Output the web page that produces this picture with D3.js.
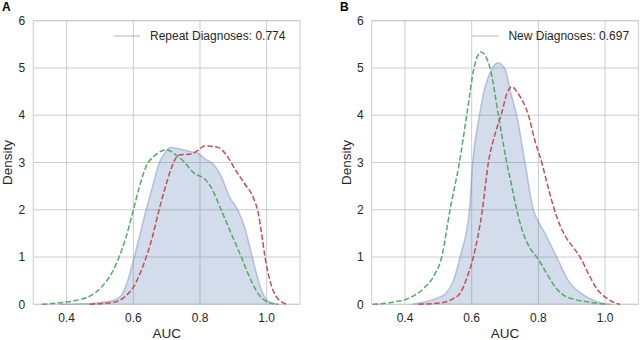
<!DOCTYPE html>
<html>
<head>
<meta charset="utf-8">
<script src="https://cdn.jsdelivr.net/npm/d3@7"></script>
<style>
  body { margin: 0; background: white; }
  svg { display: block; }
</style>
</head>
<body>
<div id="container"></div>
<script>
let w = 640;
let h = 340;

// tick values
let xTicks = [0.4, 0.6, 0.8, 1.0];
let yTicks = [0, 1, 2, 3, 4, 5, 6];

// panel A: repeat diagnoses  [AUC, density]
let repeatAll = [[0.38,0],[0.44,0.01],[0.489,0.03],[0.539,0.08],[0.563,0.18],[0.583,0.5],[0.6,0.93],[0.618,1.42],[0.638,1.99],[0.657,2.48],[0.677,2.98],[0.697,3.23],[0.712,3.32],[0.742,3.28],[0.773,3.23],[0.793,3.2],[0.813,3.09],[0.843,2.94],[0.864,2.7],[0.889,2.27],[0.914,1.99],[0.934,1.63],[0.952,1.14],[0.97,0.64],[0.985,0.29],[1.005,0.06],[1.035,0]];
let repeatGreen = [[0.326,0],[0.39,0.04],[0.44,0.1],[0.469,0.17],[0.504,0.36],[0.539,0.71],[0.578,1.42],[0.6,1.99],[0.618,2.48],[0.638,2.91],[0.667,3.16],[0.7,3.27],[0.722,3.19],[0.753,3.01],[0.783,2.77],[0.813,2.66],[0.833,2.48],[0.864,1.99],[0.894,1.49],[0.924,1.0],[0.949,0.57],[0.975,0.22],[1.005,0.04],[1.035,0]];
let repeatRed = [[0.469,0],[0.539,0.04],[0.578,0.18],[0.6,0.36],[0.628,0.79],[0.657,1.42],[0.677,1.99],[0.697,2.5],[0.712,2.84],[0.737,3.16],[0.773,3.18],[0.793,3.25],[0.813,3.35],[0.854,3.32],[0.879,3.16],[0.904,2.87],[0.934,2.55],[0.959,2.27],[0.975,1.92],[0.985,1.49],[0.995,1.0],[1.01,0.5],[1.03,0.15],[1.06,0]];

// panel B: new diagnoses
let newAll = [[0.42,0],[0.465,0.06],[0.5,0.14],[0.525,0.25],[0.545,0.5],[0.565,1.0],[0.593,2.0],[0.603,3.0],[0.623,4.0],[0.64,4.6],[0.66,4.97],[0.677,5.11],[0.7,4.98],[0.718,4.45],[0.735,4.0],[0.76,3.0],[0.785,2.0],[0.8,1.75],[0.82,1.5],[0.855,1.0],[0.89,0.5],[0.935,0.2],[0.975,0.06],[1.0,0.01],[1.02,0]];
let newGreen = [[0.303,0],[0.368,0.05],[0.418,0.15],[0.458,0.35],[0.488,0.62],[0.51,1.0],[0.535,2.0],[0.563,3.0],[0.585,4.0],[0.607,5.0],[0.628,5.34],[0.655,5.0],[0.68,4.0],[0.705,3.0],[0.72,2.5],[0.735,2.0],[0.75,1.6],[0.77,1.25],[0.8,0.95],[0.825,0.65],[0.845,0.42],[0.87,0.22],[0.9,0.12],[0.95,0.05],[1.0,0]];
let newRed = [[0.44,0],[0.515,0.04],[0.545,0.12],[0.565,0.23],[0.585,0.55],[0.605,1.0],[0.632,2.0],[0.65,3.0],[0.67,3.6],[0.69,4.05],[0.705,4.45],[0.72,4.6],[0.74,4.45],[0.77,4.0],[0.79,3.45],[0.81,3.0],[0.83,2.45],[0.855,1.85],[0.88,1.45],[0.905,1.2],[0.925,1.0],[0.95,0.65],[0.975,0.33],[1.005,0.13],[1.03,0.03],[1.045,0]];

let blue = "#4c72b0";
let green = "#55a868";
let red = "#c44e52";
let grid = "#cccccc";
let ink = "#262626";
let font = "'Liberation Sans', Arial, Helvetica, sans-serif";

let viz = d3.select("#container")
  .append("svg")
    .attr("width", w)
    .attr("height", h)
    .style("background-color", "white")
;

function drawPanel(left, letter, legendText, all, g1, r1){
  let top = 20.7;
  let bottom = 304.3;
  let right = left + 266.7;

  let x = d3.scaleLinear().domain([0.3, 1.1]).range([left, right]);
  let y = d3.scaleLinear().domain([0, 6]).range([bottom, top]);

  let panel = viz.append("g");

  // grid
  panel.selectAll(".vgrid").data(xTicks).enter()
    .append("line")
      .attr("x1", d => x(d)).attr("x2", d => x(d))
      .attr("y1", top).attr("y2", bottom)
      .style("stroke", grid)
      .style("stroke-width", 1)
  ;
  panel.selectAll(".hgrid").data(yTicks).enter()
    .append("line")
      .attr("x1", left).attr("x2", right)
      .attr("y1", d => y(d)).attr("y2", d => y(d))
      .style("stroke", grid)
      .style("stroke-width", 1)
  ;
  panel.append("rect")
      .attr("x", left).attr("y", top)
      .attr("width", right - left).attr("height", bottom - top)
      .attr("fill", "none")
      .style("stroke", grid)
      .style("stroke-width", 1)
  ;

  // tick labels
  panel.selectAll(".xlab").data(xTicks).enter()
    .append("text")
      .text(d => d3.format(".1f")(d))
      .attr("x", d => x(d))
      .attr("y", 322)
      .attr("text-anchor", "middle")
      .attr("fill", ink)
      .style("font-size", "12px")
      .style("font-family", font)
  ;
  panel.selectAll(".ylab").data(yTicks).enter()
    .append("text")
      .text(d => d)
      .attr("x", left - 8)
      .attr("y", d => y(d) + 4.2)
      .attr("text-anchor", "end")
      .attr("fill", ink)
      .style("font-size", "12px")
      .style("font-family", font)
  ;

  let area = d3.area()
    .x(d => x(d[0]))
    .y0(y(0))
    .y1(d => y(d[1]))
    .curve(d3.curveMonotoneX);
  let line = d3.line()
    .x(d => x(d[0]))
    .y(d => y(d[1]))
    .curve(d3.curveMonotoneX);

  panel.append("path")
      .attr("d", area(all))
      .attr("fill", blue)
      .attr("fill-opacity", 0.25)
  ;
  panel.append("path")
      .attr("d", line(all))
      .attr("fill", "none")
      .style("stroke", blue)
      .style("stroke-opacity", 0.35)
      .style("stroke-width", 1.5)
  ;
  panel.append("path")
      .attr("d", line(g1))
      .attr("fill", "none")
      .style("stroke", green)
      .style("stroke-width", 1.5)
      .style("stroke-dasharray", "5.5,2.4")
  ;
  panel.append("path")
      .attr("d", line(r1))
      .attr("fill", "none")
      .style("stroke", red)
      .style("stroke-width", 1.5)
      .style("stroke-dasharray", "5.5,2.4")
  ;

  // legend
  let lx = right - 186 + (letter == "B" ? 20 : 0);
  panel.append("line")
      .attr("x1", lx).attr("x2", lx + 26)
      .attr("y1", 36).attr("y2", 36)
      .style("stroke", blue)
      .style("stroke-opacity", 0.35)
      .style("stroke-width", 1.5)
  ;
  panel.append("text")
      .text(legendText)
      .attr("x", lx + 36)
      .attr("y", 39.5)
      .attr("fill", ink)
      .style("font-size", "12px")
      .style("font-family", font)
  ;

  // axis labels
  panel.append("text")
      .text("AUC")
      .attr("x", (left + right) / 2)
      .attr("y", 338)
      .attr("text-anchor", "middle")
      .attr("fill", ink)
      .style("font-size", "13.5px")
      .style("font-family", font)
  ;
  panel.append("text")
      .text("Density")
      .attr("transform", "translate(" + (left - 21) + "," + ((top + bottom) / 2) + ") rotate(-90)")
      .attr("text-anchor", "middle")
      .attr("fill", ink)
      .style("font-size", "13.5px")
      .style("font-family", font)
  ;
  panel.append("text")
      .text(letter)
      .attr("x", letter == "A" ? 2 : 340)
      .attr("y", 11)
      .attr("fill", "black")
      .style("font-size", "12px")
      .style("font-weight", "bold")
      .style("font-family", font)
  ;
}

drawPanel(33.3, "A", "Repeat Diagnoses: 0.774", repeatAll, repeatGreen, repeatRed);
drawPanel(371.7, "B", "New Diagnoses: 0.697", newAll, newGreen, newRed);
</script>
</body>
</html>
